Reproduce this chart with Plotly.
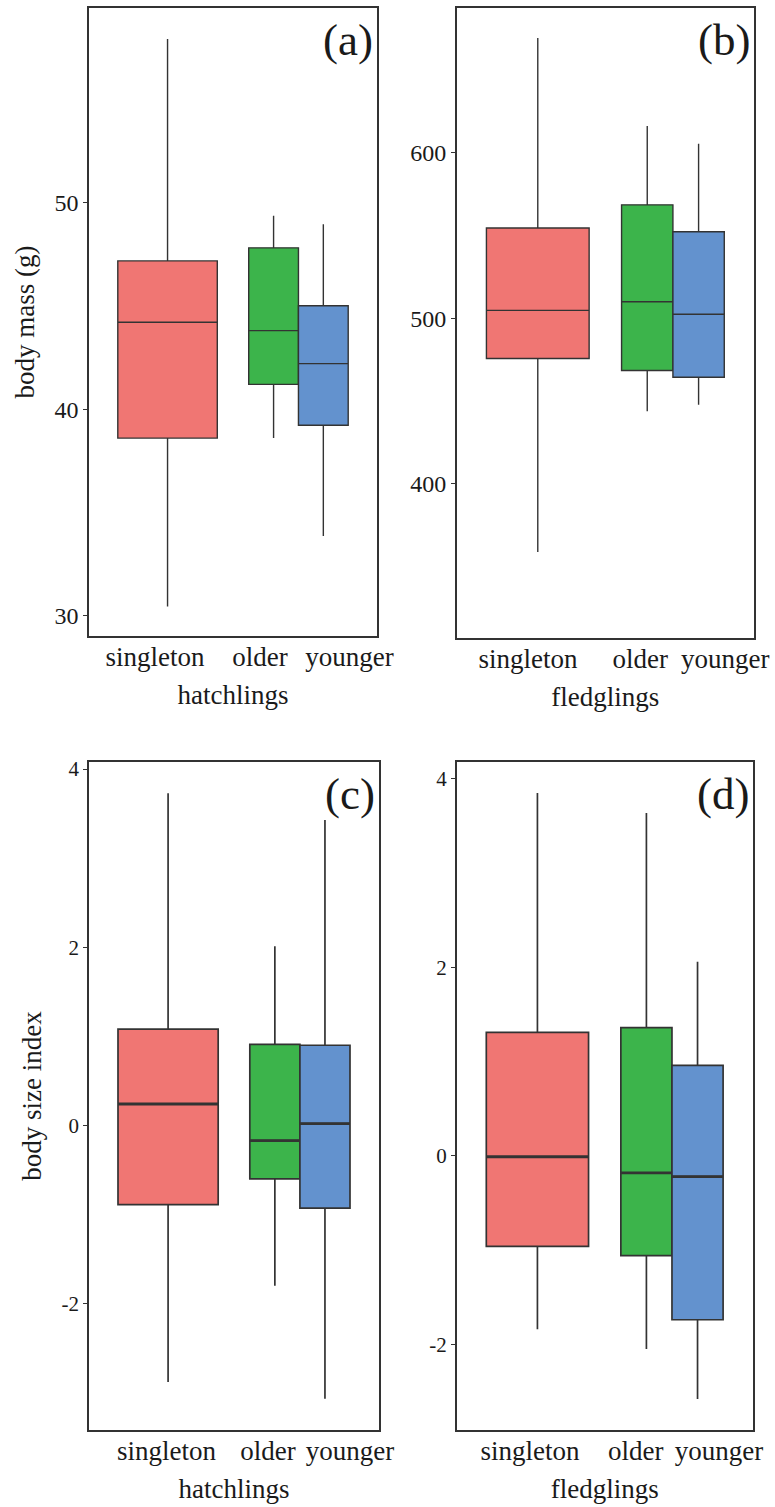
import plotly.graph_objects as go

# ---------------- data ----------------
categories = ["singleton", "older", "younger"]
colors = ["#F07673", "#3CB44B", "#6392CE"]

# panel (a): hatchling body mass (g)
a_low = [30.46, 38.6, 33.86]
a_q1 = [38.6, 41.2, 39.22]
a_med = [44.2, 43.8, 42.2]
a_q3 = [47.17, 47.8, 45.0]
a_high = [57.9, 49.35, 48.94]

# panel (b): fledgling body mass (g)
b_low = [358.8, 443.9, 447.7]
b_q1 = [475.7, 468.5, 464.4]
b_med = [504.8, 510.0, 502.4]
b_q3 = [554.5, 568.5, 552.3]
b_high = [669.3, 616.2, 605.4]

# panel (c): hatchling body size index
c_low = [-2.88, -1.80, -3.07]
c_q1 = [-0.89, -0.60, -0.93]
c_med = [0.24, -0.17, 0.02]
c_q3 = [1.08, 0.91, 0.90]
c_high = [3.73, 2.01, 3.43]

# panel (d): fledgling body size index
d_low = [-1.84, -2.05, -2.58]
d_q1 = [-0.96, -1.06, -1.74]
d_med = [-0.01, -0.18, -0.22]
d_q3 = [1.31, 1.36, 0.96]
d_high = [3.85, 3.64, 2.06]

a_ticks = [30, 40, 50]
b_ticks = [400, 500, 600]
cd_ticks = [-2, 0, 2, 4]
cd_ticktext = ["-2", "0", "2", "4"]

# ---------------- layout constants ----------------
W, H = 775, 1507
FONT = "Liberation Serif, Times New Roman, serif"
positions = [1.0, 1.81, 2.19]
widths = [0.76, 0.38, 0.38]

panels = [
    dict(name="a", xa="x", ya="y", stats=(a_low, a_q1, a_med, a_q3, a_high),
         xdom=(89, 377), ydom=(8, 636), yrange=(29.03, 59.4),
         yticks=a_ticks, yticktext=[str(v) for v in a_ticks],
         labelpos=[0.905, 1.706, 2.39], xtitle="hatchlings", ytitle="body mass (g)",
         lw=1.4, medw=0, tickfs=24),
    dict(name="b", xa="x2", ya="y2", stats=(b_low, b_q1, b_med, b_q3, b_high),
         xdom=(456.7, 754), ydom=(8, 637.5), yrange=(307.2, 687.4),
         yticks=b_ticks, yticktext=[str(v) for v in b_ticks],
         labelpos=[0.928, 1.758, 2.387], xtitle="fledglings", ytitle="",
         lw=1.4, medw=0, tickfs=24),
    dict(name="c", xa="x3", ya="y3", stats=(c_low, c_q1, c_med, c_q3, c_high),
         xdom=(89, 379), ydom=(762, 1430), yrange=(-3.42, 4.08),
         yticks=cd_ticks, yticktext=cd_ticktext,
         labelpos=[0.988, 1.758, 2.38], xtitle="hatchlings", ytitle="body size index",
         lw=1.7, medw=2.8, tickfs=21),
    dict(name="d", xa="x4", ya="y4", stats=(d_low, d_q1, d_med, d_q3, d_high),
         xdom=(456.7, 752.7), ydom=(762, 1430), yrange=(-2.91, 4.18),
         yticks=cd_ticks, yticktext=cd_ticktext,
         labelpos=[0.945, 1.73, 2.35], xtitle="fledglings", ytitle="",
         lw=1.7, medw=2.8, tickfs=21),
]

fig = go.Figure()
layout = dict(
    width=W, height=H, margin=dict(l=0, r=0, t=0, b=0, autoexpand=False),
    paper_bgcolor="white", plot_bgcolor="white", showlegend=False,
    font=dict(family=FONT, color="#1a1a1a"),
)

annotations = []
for p in panels:
    low, q1, med, q3, high = p["stats"]
    for i, cat in enumerate(categories):
        fig.add_trace(go.Box(
            x=[positions[i]], q1=[q1[i]], median=[med[i]], q3=[q3[i]],
            lowerfence=[low[i]], upperfence=[high[i]],
            width=widths[i], fillcolor=colors[i],
            line=dict(color="#333333", width=p["lw"]),
            whiskerwidth=0, boxpoints=False, name=cat,
            xaxis=p["xa"], yaxis=p["ya"], hoverinfo="skip",
        ))
        if p["medw"]:
            fig.add_trace(go.Scatter(
                x=[positions[i] - widths[i] / 2, positions[i] + widths[i] / 2],
                y=[med[i], med[i]], mode="lines",
                line=dict(color="#333333", width=p["medw"]),
                xaxis=p["xa"], yaxis=p["ya"], hoverinfo="skip", showlegend=False,
            ))
    xk = "xaxis" + p["xa"][1:]
    yk = "yaxis" + p["ya"][1:]
    layout[xk] = dict(
        domain=[p["xdom"][0] / W, p["xdom"][1] / W], automargin=False,
        anchor=p["ya"], range=[0.4, 2.6], showgrid=False, zeroline=False,
        showline=True, mirror=True, linecolor="#333333", linewidth=1.5,
        tickvals=p["labelpos"], ticktext=categories,
        ticks="", ticklabelstandoff=-4,
        tickfont=dict(family=FONT, size=27, color="#1a1a1a"),
        title=dict(text=p["xtitle"], font=dict(family=FONT, size=27, color="#1a1a1a"),
                   standoff=14),
    )
    layout[yk] = dict(
        domain=[1 - p["ydom"][1] / H, 1 - p["ydom"][0] / H], automargin=False,
        anchor=p["xa"], range=list(p["yrange"]), showgrid=False, zeroline=False,
        showline=True, mirror=True, linecolor="#333333", linewidth=1.5,
        tickvals=p["yticks"], ticktext=p["yticktext"],
        ticks="outside", ticklen=4, tickcolor="#333333", tickwidth=1,
        tickfont=dict(family=FONT, size=p["tickfs"], color="#1a1a1a"),
        title=dict(text=p["ytitle"], font=dict(family=FONT, size=27, color="#1a1a1a"),
                   standoff=12),
    )
    annotations.append(dict(
        text="(" + p["name"] + ")", xref="paper", yref="paper",
        x=(p["xdom"][1] - 2) / W, y=1 - (p["ydom"][0] + 32) / H,
        xanchor="right", yanchor="middle", showarrow=False,
        font=dict(family=FONT, size=45, color="#1a1a1a"),
    ))

layout["annotations"] = annotations
fig.update_layout(**layout)
fig.write_html(
    "out.html",
    config={"displayModeBar": False, "responsive": False},
    post_script="document.body.style.margin='0px';"
                "document.documentElement.style.overflow='hidden';"
                "document.body.style.overflow='hidden';",
)
